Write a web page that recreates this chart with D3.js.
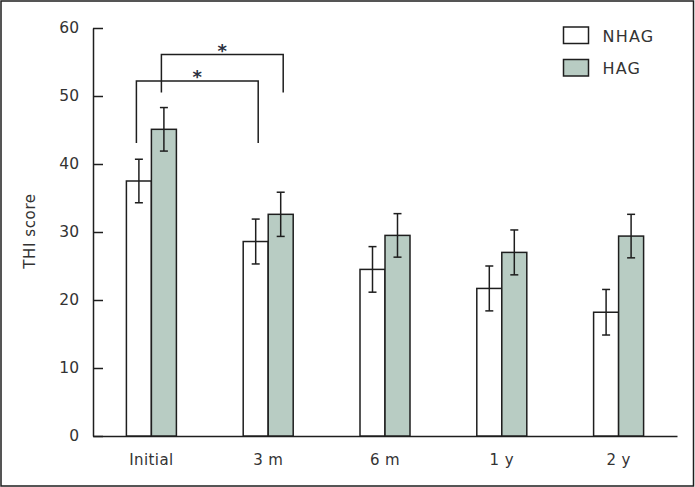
<!DOCTYPE html>
<html><head><meta charset="utf-8">
<script src="https://cdn.jsdelivr.net/npm/d3@7"></script>
<style>body{margin:0;background:#fff}svg{display:block}</style>
</head><body>
<script>
const categories = ["Initial", "3 m", "6 m", "1 y", "2 y"];
const seriesNames = ["NHAG", "HAG"];
const nhagValues = [37.5, 28.6, 24.5, 21.7, 18.2];
const nhagErrors = [3.2, 3.3, 3.35, 3.3, 3.35];
const hagValues = [45.1, 32.6, 29.5, 27.0, 29.4];
const hagErrors = [3.2, 3.25, 3.2, 3.3, 3.2];
const yTicks = [0, 10, 20, 30, 40, 50, 60];
// significance brackets: [fromCategory, fromSeries, toCategory, toSeries, legValue, barValue]
const brackets = [
  ["Initial", "NHAG", "3 m", "NHAG", 43.1, 52.2],
  ["Initial", "HAG", "3 m", "HAG", 50.5, 56.1]
];

const W = 695, H = 487;
const svg = d3.select("body").append("svg").attr("width", W).attr("height", H);
const font = "'Century Gothic','DejaVu Sans',sans-serif";
const ink = "#1e1e1e", textCol = "#333";

svg.append("rect").attr("x", 1).attr("y", 1).attr("width", 692.5).attr("height", 485)
  .attr("fill", "#fff").attr("stroke", ink).attr("stroke-width", 1.5);

const x = d3.scaleBand().domain(categories).range([93, 677]).padding(0);
const y = d3.scaleLinear().domain([0, 60]).range([436, 28]);
const bw = 25;
const fills = {NHAG: "#ffffff", HAG: "#b8ccc3"};
const xOff = {NHAG: -bw, HAG: 0};
const cx = (c, s) => x(c) + x.bandwidth() / 2 + xOff[s] + bw / 2;

// y axis (inward ticks)
const yAxis = svg.append("g").attr("transform", "translate(93,0)")
  .call(d3.axisLeft(y).tickValues(yTicks).tickSizeInner(-10).tickSizeOuter(0).tickPadding(14));
yAxis.select(".domain").attr("stroke", ink).attr("stroke-width", 1.5);
yAxis.selectAll(".tick line").attr("stroke", ink).attr("stroke-width", 1.5);
yAxis.selectAll("text").attr("font-family", font).attr("font-size", 15.5).attr("fill", textCol);

// x axis
const xAxis = svg.append("g").attr("transform", "translate(0,436)")
  .call(d3.axisBottom(x).tickSize(0).tickPadding(18));
xAxis.select(".domain").attr("stroke", ink).attr("stroke-width", 1.5);
xAxis.selectAll("text").attr("font-family", font).attr("font-size", 15)
  .attr("letter-spacing", 0.4).attr("fill", textCol);

// axis title
svg.append("text").attr("transform", "translate(35,231) rotate(-90)")
  .attr("text-anchor", "middle").attr("font-family", font).attr("font-size", 15)
  .attr("letter-spacing", 0.6).attr("fill", textCol).text("THI score");

const data = [];
categories.forEach((c, i) => {
  data.push({c, s: "NHAG", v: nhagValues[i], e: nhagErrors[i]});
  data.push({c, s: "HAG", v: hagValues[i], e: hagErrors[i]});
});

svg.append("g").selectAll("rect").data(data).join("rect")
  .attr("x", d => cx(d.c, d.s) - bw / 2).attr("width", bw)
  .attr("y", d => y(d.v)).attr("height", d => y(0) - y(d.v))
  .attr("fill", d => fills[d.s]).attr("stroke", ink).attr("stroke-width", 1.5);

const eg = svg.append("g").attr("stroke", ink).attr("stroke-width", 1.5);
data.forEach(d => {
  const xc = cx(d.c, d.s);
  eg.append("line").attr("x1", xc).attr("x2", xc).attr("y1", y(d.v + d.e)).attr("y2", y(d.v - d.e));
  [d.v + d.e, d.v - d.e].forEach(v =>
    eg.append("line").attr("x1", xc - 4).attr("x2", xc + 4).attr("y1", y(v)).attr("y2", y(v)));
});

// brackets
brackets.forEach(b => {
  const x1 = cx(b[0], b[1]) - 2.5, x2 = cx(b[2], b[3]) + 2.5;
  svg.append("path")
    .attr("d", `M${x1},${y(b[4])}V${y(b[5])}H${x2}V${y(b[4])}`)
    .attr("fill", "none").attr("stroke", ink).attr("stroke-width", 1.5);
  svg.append("text").attr("x", (x1 + x2) / 2).attr("y", y(b[5]) + 2)
    .attr("text-anchor", "middle").attr("font-family", font).attr("font-size", 18)
    .attr("font-weight", "bold").attr("fill", "#2a3040").text("*");
});

// legend
const lg = svg.append("g");
seriesNames.forEach((s, i) => {
  lg.append("rect").attr("x", 563.5).attr("y", 27 + i * 32.5).attr("width", 25).attr("height", 16.5)
    .attr("fill", fills[s]).attr("stroke", ink).attr("stroke-width", 1.5);
  lg.append("text").attr("x", 602.5).attr("y", 41.5 + i * 32.5).attr("font-family", font)
    .attr("font-size", 16).attr("letter-spacing", 1.2).attr("fill", textCol).text(s);
});
</script>
</body></html>
